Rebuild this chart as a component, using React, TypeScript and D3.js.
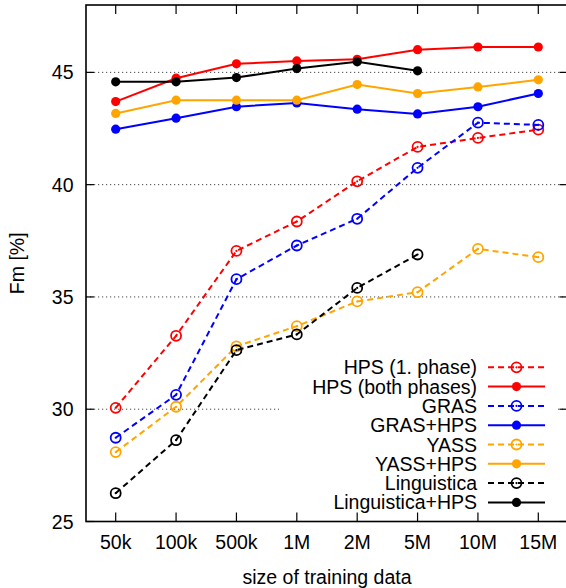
import React from "react";
import * as d3 from "d3";

const categories = ["50k", "100k", "500k", "1M", "2M", "5M", "10M", "15M"];
const yTicks = [25, 30, 35, 40, 45];
const gridTicks = [30, 35, 40, 45];

const hps1 = [30.06, 33.27, 37.05, 38.36, 40.15, 41.68, 42.08, 42.45];
const hpsBoth = [43.7, 44.74, 45.38, 45.51, 45.58, 46.01, 46.13, 46.13];
const gras = [28.73, 30.64, 35.79, 37.29, 38.48, 40.75, 42.76, 42.66];
const grasHps = [42.47, 42.96, 43.47, 43.64, 43.36, 43.15, 43.47, 44.06];
const yass = [28.09, 30.11, 32.8, 33.7, 34.8, 35.21, 37.14, 36.77];
const yassHps = [43.17, 43.76, 43.76, 43.76, 44.46, 44.06, 44.35, 44.67];
const ling = [26.26, 28.62, 32.63, 33.33, 35.4, 36.89];
const lingHps = [44.58, 44.58, 44.77, 45.17, 45.47, 45.07];

const series = [
  { name: "HPS (1. phase)", values: hps1, color: "#ff0000", dashed: true },
  { name: "HPS (both phases)", values: hpsBoth, color: "#ff0000", dashed: false },
  { name: "GRAS", values: gras, color: "#0000ff", dashed: true },
  { name: "GRAS+HPS", values: grasHps, color: "#0000ff", dashed: false },
  { name: "YASS", values: yass, color: "#ffa500", dashed: true },
  { name: "YASS+HPS", values: yassHps, color: "#ffa500", dashed: false },
  { name: "Linguistica", values: ling, color: "#000000", dashed: true },
  { name: "Linguistica+HPS", values: lingHps, color: "#000000", dashed: false },
];

const W = 566;
const H = 588;
const left = 86;
const right = 568.5;
const top = 5;
const bottom = 521.5;
const font = "'Liberation Sans', Arial, Helvetica, sans-serif";
const fs = 19.5;

export default function App() {
  const x = d3.scalePoint<string>().domain(categories).range([115.7, 538.3]);
  const y = d3.scaleLinear().domain([25, 48]).range([bottom, top]);
  const line = d3
    .line<number>()
    .x((_, i) => x(categories[i]) as number)
    .y((d) => y(d));

  const marker = (cx: number, cy: number, color: string, open: boolean, key: string) =>
    open ? (
      <g key={key}>
        <circle cx={cx} cy={cy} r={5} fill="none" stroke={color} strokeWidth={1.8} />
        <circle cx={cx} cy={cy} r={1.1} fill={color} />
      </g>
    ) : (
      <circle key={key} cx={cx} cy={cy} r={4.6} fill={color} />
    );

  const legendX0 = 488;
  const legendX1 = 545;
  const legendTextX = 477;
  const legendY0 = 367.3;
  const legendStep = 19.3;

  return (
    <svg
      width={W}
      height={H}
      style={{ position: "absolute", left: 0, top: 0, background: "#fff" }}
      fontFamily={font}
    >
      <rect x={0} y={0} width={W} height={H} fill="#fff" />
      {gridTicks.map((t) => (
        <line
          key={"g" + t}
          x1={left}
          x2={right}
          y1={y(t)}
          y2={y(t)}
          stroke="#444"
          strokeWidth={1}
          strokeDasharray="1.2,2.8"
        />
      ))}
      <rect x={279} y={352} width={277} height={162} fill="#fff" />
      {series.map((s) => (
        <g key={s.name}>
          <path
            d={line(s.values) || ""}
            fill="none"
            stroke={s.color}
            strokeWidth={2}
            strokeDasharray={s.dashed ? "6,4" : undefined}
          />
          {s.values.map((v, i) =>
            marker(x(categories[i]) as number, y(v), s.color, s.dashed, s.name + i)
          )}
        </g>
      ))}
      {series.map((s, i) => {
        const ly = legendY0 + i * legendStep;
        return (
          <g key={"l" + s.name}>
            <text x={legendTextX} y={ly} dy="0.36em" textAnchor="end" fontSize={fs} fill="#000">
              {s.name}
            </text>
            <line
              x1={legendX0}
              x2={legendX1}
              y1={ly}
              y2={ly}
              stroke={s.color}
              strokeWidth={2}
              strokeDasharray={s.dashed ? "6,4" : undefined}
            />
            {marker((legendX0 + legendX1) / 2, ly, s.color, s.dashed, "lm" + i)}
          </g>
        );
      })}
      <rect x={left} y={top} width={right - left} height={bottom - top} fill="none" stroke="#000" strokeWidth={1.6} />
      {categories.map((c) => (
        <g key={"xt" + c}>
          <line x1={x(c)} x2={x(c)} y1={bottom} y2={bottom - 9} stroke="#000" strokeWidth={1.2} />
          <line x1={x(c)} x2={x(c)} y1={top} y2={top + 9} stroke="#000" strokeWidth={1.2} />
          <text x={x(c)} y={548.5} textAnchor="middle" fontSize={fs} fill="#000">
            {c}
          </text>
        </g>
      ))}
      {yTicks.map((t) => (
        <g key={"yt" + t}>
          <line x1={left} x2={left + 8} y1={y(t)} y2={y(t)} stroke="#000" strokeWidth={1.2} />
          <line x1={right} x2={right - 9} y1={y(t)} y2={y(t)} stroke="#000" strokeWidth={1.2} />
          <text x={73.5} y={y(t)} dy="0.36em" textAnchor="end" fontSize={fs} fill="#000">
            {t}
          </text>
        </g>
      ))}
      <text x={327} y={584} textAnchor="middle" fontSize={fs} fill="#000">
        size of training data
      </text>
      <text
        transform={`translate(24,${(top + bottom) / 2}) rotate(-90)`}
        textAnchor="middle"
        fontSize={fs}
        fill="#000"
      >
        Fm [%]
      </text>
    </svg>
  );
}
